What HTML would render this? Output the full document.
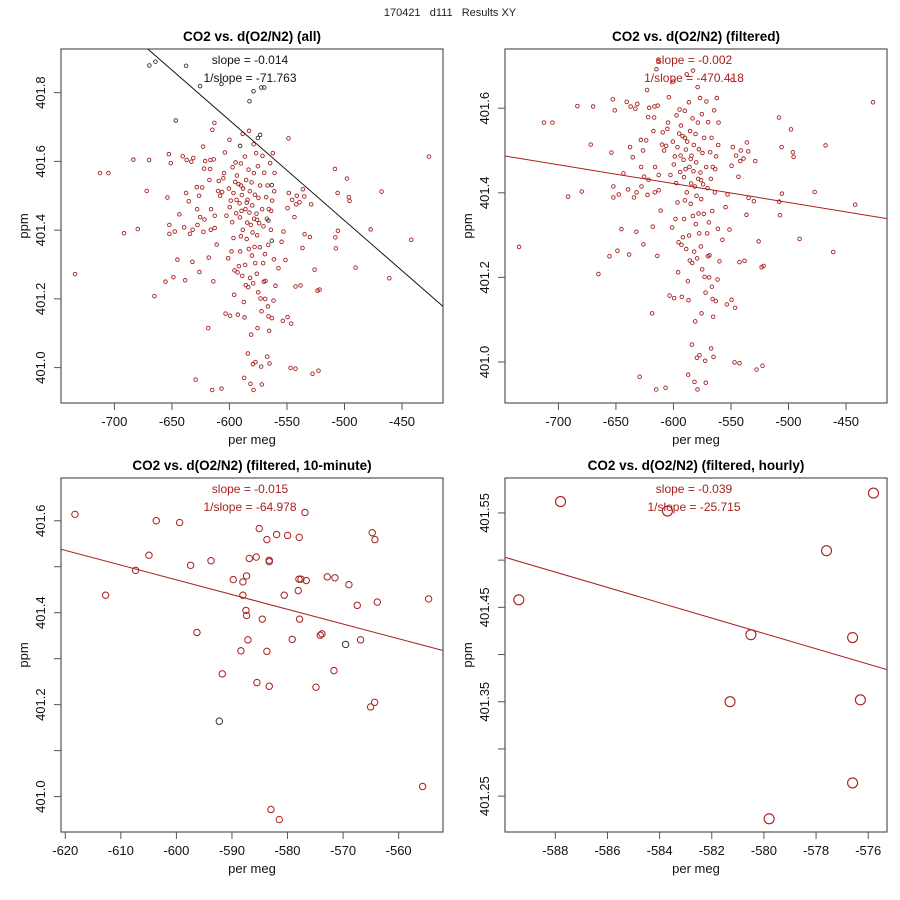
<!DOCTYPE html>
<html><head><meta charset="utf-8"><style>
html,body{margin:0;padding:0;background:#fff;}
svg{display:block;font-family:"Liberation Sans",sans-serif;}
</style></head><body>
<svg id="chart" width="900" height="900" viewBox="0 0 900 900" xmlns="http://www.w3.org/2000/svg">
<rect x="0" y="0" width="900" height="900" fill="#fff"/>
<text x="450" y="16" text-anchor="middle" font-size="11" fill="#222" xml:space="preserve">170421   d111   Results XY</text>
</svg>
<script>
// ---- data (per meg, ppm) ----
const outlierX = [-669.6,-664.3,-637.7,-625.5,-606.9,-579.1,-582.6,-572.4,-569.8,-646.6,-573.3,-575.3,-590.7,-563.2,-566.1,-563.2];
const outlierY = [401.879,401.890,401.878,401.819,401.825,401.804,401.775,401.815,401.815,401.719,401.677,401.668,401.645,401.531,401.428,401.369];
const filtX = [-734.2,-712.5,-705.2,-691.6,-683.5,-679.7,-671.9,-669.8,-665.2,-655.6,-653.9,-652.7,-652.2,-652.2,-651.0,-648.7,-647.5,-645.2,-643.5,-640.6,-639.4,-638.5,-637.7,-637.2,-635.4,-634.3,-633.1,-632.2,-632.0,-631.4,-629.4,-628.4,-628.1,-627.8,-626.4,-626.1,-625.5,-623.7,-622.9,-622.6,-622.0,-621.7,-621.1,-618.5,-618.0,-617.4,-616.8,-616.5,-616.2,-616.0,-615.0,-614.8,-614.0,-613.7,-613.1,-612.8,-612.8,-611.1,-609.9,-609.3,-608.1,-606.9,-606.4,-605.3,-604.7,-604.0,-603.4,-602.6,-601.1,-600.5,-600.0,-599.7,-599.4,-598.8,-598.2,-597.6,-597.3,-596.5,-596.5,-595.9,-595.6,-595.0,-594.7,-594.1,-593.8,-593.5,-593.0,-592.7,-592.1,-591.8,-591.2,-590.9,-590.7,-590.1,-590.1,-589.5,-589.2,-588.9,-588.4,-588.1,-587.5,-587.2,-586.9,-586.6,-586.4,-586.1,-585.8,-585.5,-585.0,-584.6,-584.3,-584.0,-583.7,-583.4,-583.1,-582.6,-582.3,-582.0,-581.7,-581.4,-581.1,-580.8,-580.5,-580.2,-579.9,-579.6,-579.4,-579.1,-578.8,-578.5,-578.2,-577.9,-577.6,-577.4,-576.8,-576.5,-576.2,-575.9,-575.6,-575.3,-575.0,-574.8,-574.2,-573.6,-573.3,-573.0,-572.4,-572.1,-571.9,-571.6,-571.3,-570.7,-570.4,-570.1,-569.8,-569.2,-569.0,-568.7,-568.1,-567.5,-567.2,-566.9,-566.6,-566.3,-566.0,-565.8,-565.5,-565.2,-564.6,-564.0,-563.7,-563.2,-562.9,-562.3,-561.7,-561.4,-561.1,-560.8,-560.0,-557.4,-554.7,-553.6,-553.0,-551.3,-549.5,-549.5,-548.7,-548.4,-546.9,-546.4,-545.5,-543.5,-542.6,-542.6,-542.0,-541.5,-539.1,-538.2,-536.5,-536.2,-535.0,-534.7,-530.1,-528.9,-527.8,-526.0,-523.4,-522.6,-521.7,-508.3,-508.0,-507.5,-506.0,-505.7,-497.9,-496.2,-495.6,-490.4,-477.3,-467.8,-461.1,-442.0,-426.6,-588.5,-583.0,-579.0,-585.0,-576.0,-590.0];
const filtY = [401.272,401.566,401.566,401.391,401.605,401.403,401.514,401.604,401.208,401.250,401.495,401.621,401.415,401.389,401.595,401.263,401.396,401.314,401.446,401.615,401.408,401.254,401.508,401.604,401.484,401.389,401.599,401.308,401.401,401.610,400.965,401.525,401.461,401.415,401.500,401.278,401.438,401.524,401.643,401.395,401.579,401.431,401.601,401.115,401.320,401.546,401.578,401.604,401.401,401.461,400.935,401.692,401.251,401.606,401.712,401.406,401.442,401.358,401.514,401.543,401.500,400.939,401.511,401.551,401.566,401.626,401.157,401.442,401.318,401.521,401.663,401.467,401.151,401.486,401.338,401.423,401.583,401.508,401.377,401.212,401.283,401.540,401.597,401.449,401.488,401.559,401.277,401.154,401.534,401.295,401.478,401.437,401.338,401.594,401.382,401.456,401.502,401.267,401.401,401.521,401.191,400.970,401.146,401.614,401.299,401.461,401.240,401.546,401.374,401.422,401.488,401.041,401.234,401.576,401.345,401.451,401.513,401.261,400.953,401.415,401.096,401.539,401.326,401.472,401.393,401.010,401.245,400.935,401.566,401.433,401.351,401.503,401.304,401.016,401.624,401.448,401.273,401.385,401.115,401.586,401.219,401.494,401.420,401.350,401.530,401.201,401.003,401.164,400.951,401.461,401.616,401.304,401.411,401.250,401.567,401.330,401.200,401.252,401.496,401.433,401.032,401.530,401.178,401.357,401.149,401.461,401.107,401.012,401.595,401.401,401.456,401.144,401.486,401.624,401.195,401.315,401.513,401.566,401.238,401.289,401.366,401.136,401.396,401.313,401.464,401.147,401.667,401.508,400.999,401.128,401.488,401.438,400.997,401.236,401.475,401.500,401.481,401.239,401.348,401.519,401.498,401.388,401.380,401.475,400.982,401.285,401.224,400.991,401.227,401.578,401.379,401.347,401.508,401.398,401.550,401.496,401.485,401.291,401.402,401.512,401.260,401.372,401.614,401.680,401.689,401.650,401.480,401.430,401.530];
const tenX = [-618.26,-612.74,-607.34,-604.94,-603.62,-599.42,-597.44,-596.30,-593.78,-592.28,-591.75,-589.77,-588.39,-588.03,-588.03,-587.49,-587.37,-587.37,-587.13,-586.89,-585.63,-585.51,-585.09,-584.55,-583.71,-583.71,-583.29,-583.29,-583.29,-582.99,-581.97,-581.49,-580.59,-579.99,-579.15,-578.07,-577.95,-577.89,-577.83,-577.59,-576.87,-576.63,-574.89,-574.11,-573.81,-572.85,-571.65,-571.47,-569.55,-568.95,-567.45,-566.85,-565.05,-564.75,-564.33,-564.27,-563.85,-555.69,-554.61];
const tenY = [401.614,401.438,401.492,401.525,401.600,401.596,401.503,401.357,401.513,401.164,401.267,401.472,401.317,401.467,401.438,401.405,401.480,401.394,401.341,401.518,401.521,401.248,401.583,401.386,401.559,401.316,401.514,401.511,401.240,400.972,401.570,400.950,401.438,401.568,401.342,401.448,401.473,401.564,401.386,401.473,401.618,401.470,401.238,401.351,401.354,401.478,401.274,401.476,401.331,401.461,401.416,401.341,401.195,401.574,401.205,401.559,401.423,401.022,401.430];
const tenDark = [9,48];
const hourX = [-589.4,-587.8,-583.7,-580.5,-581.3,-579.8,-577.6,-576.6,-576.3,-576.6,-575.8];
const hourY = [401.458,401.562,401.552,401.421,401.350,401.226,401.510,401.418,401.352,401.264,401.571];
// ---- fit lines (endpoints in data units) ----
const fitAllX = [-671.0,-414.4], fitAllY = [401.927,401.178];
const fitFiltX = [-746.4,-414.4], fitFiltY = [401.487,401.339];
const fitTenX = [-620.78,-552.1], fitTenY = [401.538,401.318];
const fitHourX = [-589.93,-575.28], fitHourY = [401.503,401.384];
// ---- ticks ----
const ticksX12 = [-700,-650,-600,-550,-500,-450];
const ticksY1 = [401.0,401.2,401.4,401.6,401.8];
const ticksY2 = [401.0,401.2,401.4,401.6];
const ticksX3 = [-620,-610,-600,-590,-580,-570,-560];
const ticksY3 = [401.0,401.1,401.2,401.3,401.4,401.5,401.6];
const labelsY3 = ["401.0","","401.2","","401.4","","401.6"];
const ticksX4 = [-588,-586,-584,-582,-580,-578,-576];
const ticksY4 = [401.25,401.30,401.35,401.40,401.45,401.50,401.55];
const labelsY4 = ["401.25","","401.35","","401.45","","401.55"];

const NS = "http://www.w3.org/2000/svg";
const svg = document.getElementById('chart');
const RED = "#a8201e", DARK = "#333";
function mk(tag, attrs, parent){ const e = document.createElementNS(NS, tag); for (const k in attrs) e.setAttribute(k, attrs[k]); (parent||svg).appendChild(e); return e; }

function panel(p){
  const g = mk('g', {});
  
  
  const sx = v => p.L + (v - p.x0) / (p.x1 - p.x0) * (p.R - p.L);
  const sy = v => p.B - (v - p.y0) / (p.y1 - p.y0) * (p.B - p.T);
  const t = mk('text', {x:(p.L+p.R)/2, y:p.T-8, 'text-anchor':'middle', 'font-size':'13.5', 'font-weight':'bold', fill:'#000'}, g);
  t.textContent = p.title;
  
  
  const frame = mk('rect', {x:p.L, y:p.T, width:p.R-p.L, height:p.B-p.T, fill:'none', stroke:'#555', 'stroke-width':'1.2'}, g);
  
  
  const xa = mk('g', {}, g);
  
  
  p.tx.forEach(v => {
    const x = sx(v);
    mk('line', {x1:x, x2:x, y1:p.B, y2:p.B+7, stroke:'#555'}, xa);
    const l = mk('text', {x:x, y:p.B+23, 'text-anchor':'middle', 'font-size':'13', fill:'#111'}, xa);
    l.textContent = v;
    
    
  });
  const xl = mk('text', {x:(p.L+p.R)/2, y:p.B+41, 'text-anchor':'middle', 'font-size':'13', fill:'#111'}, g);
  xl.textContent = 'per meg';
  
  
  const ya = mk('g', {}, g);
  
  
  p.ty.forEach((v, i) => {
    const y = sy(v);
    mk('line', {x1:p.L-7, x2:p.L, y1:y, y2:y, stroke:'#555'}, ya);
    const lab = p.ly ? p.ly[i] : v.toFixed(1);
    if (lab) {
      const l = mk('text', {x:0, y:0, 'text-anchor':'middle', 'font-size':'13', fill:'#111', transform:`translate(${p.L-16},${y}) rotate(-90)`}, ya);
      l.textContent = lab;
      
      
    }
  });
  const yl = mk('text', {x:0, y:0, 'text-anchor':'middle', 'font-size':'13', fill:'#111', transform:`translate(${p.L-33},${(p.T+p.B)/2}) rotate(-90)`}, g);
  yl.textContent = 'ppm';
  
  
  const pts = mk('g', {'clip-path':`url(#clip-${p.id})`}, g);
  
  
  const cp = mk('clipPath', {id:'clip-'+p.id}, g);
  mk('rect', {x:p.L, y:p.T, width:p.R-p.L, height:p.B-p.T}, cp);
  p.series.forEach(s => {
    s.x.forEach((xv, i) => {
      const c = mk('circle', {cx:sx(xv), cy:sy(s.y[i]), r:p.r, fill:'none', stroke:(s.dark && s.dark.includes(i)) ? DARK : s.color, 'stroke-width':p.sw}, pts);
      
      
    });
  });
  const fl = mk('line', {x1:sx(p.fx[0]), y1:sy(p.fy[0]), x2:sx(p.fx[1]), y2:sy(p.fy[1]), stroke:p.lineColor, 'stroke-width':'1', 'clip-path':`url(#clip-${p.id})`}, g);
  
  
  p.ann.forEach((a, i) => {
    const at = mk('text', {x:(p.L+p.R)/2 - 2, y:p.T + 15 + i*18, 'text-anchor':'middle', 'font-size':'12', fill:p.lineColor}, g);
    at.textContent = a;
    
    
  });
}

panel({id:1, name:'panel-all', title:'CO2 vs. d(O2/N2) (all)', L:61, R:443, T:49, B:403,
  x0:-746.4, x1:-414.4, y0:400.897, y1:401.927, tx:ticksX12, ty:ticksY1, r:1.8, sw:0.9,
  series:[{x:filtX, y:filtY, color:RED},{x:outlierX, y:outlierY, color:DARK}],
  fx:fitAllX, fy:fitAllY, lineColor:'#111', ann:['slope = -0.014','1/slope = -71.763']});
panel({id:2, name:'panel-filtered', title:'CO2 vs. d(O2/N2) (filtered)', L:505, R:887, T:49, B:403,
  x0:-746.4, x1:-414.4, y0:400.903, y1:401.740, tx:ticksX12, ty:ticksY2, r:1.8, sw:0.9,
  series:[{x:filtX, y:filtY, color:RED}],
  fx:fitFiltX, fy:fitFiltY, lineColor:RED, ann:['slope = -0.002','1/slope = -470.418']});
panel({id:3, name:'panel-10-minute', title:'CO2 vs. d(O2/N2) (filtered, 10-minute)', L:61, R:443, T:478, B:832,
  x0:-620.77, x1:-552.02, y0:400.923, y1:401.693, tx:ticksX3, ty:ticksY3, ly:labelsY3, r:3.2, sw:1,
  series:[{x:tenX, y:tenY, color:RED, dark:tenDark}],
  fx:fitTenX, fy:fitTenY, lineColor:RED, ann:['slope = -0.015','1/slope = -64.978']});
panel({id:4, name:'panel-hourly', title:'CO2 vs. d(O2/N2) (filtered, hourly)', L:505, R:887, T:478, B:832,
  x0:-589.93, x1:-575.28, y0:401.212, y1:401.587, tx:ticksX4, ty:ticksY4, ly:labelsY4, r:5, sw:1.1,
  series:[{x:hourX, y:hourY, color:RED}],
  fx:fitHourX, fy:fitHourY, lineColor:RED, ann:['slope = -0.039','1/slope = -25.715']});
</script>
</body></html>
